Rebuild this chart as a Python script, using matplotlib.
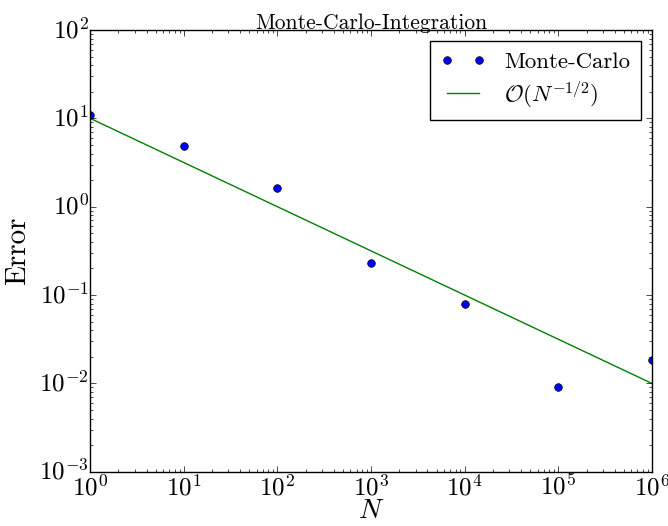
import numpy as np
import matplotlib
matplotlib.use("Agg")
import matplotlib.pyplot as plt

# data
N = [1e0, 1e1, 1e2, 1e3, 1e4, 1e5, 1e6]
err = [11.0, 4.9, 1.61, 0.23, 0.080, 0.0092, 0.0185]
N_ref = [1e0, 1e6]

plt.style.use('classic')
plt.rcParams['font.family'] = 'cmr10'
plt.rcParams['mathtext.fontset'] = 'cm'
plt.rcParams['axes.formatter.use_mathtext'] = True
plt.rcParams['axes.unicode_minus'] = False

fig = plt.figure(figsize=(6.68, 5.26), dpi=100, facecolor='white')
ax = fig.add_axes([0.135, 0.103, 0.841, 0.840])

ax.loglog(N, err, 'o', color='b', markersize=5.5, label='Monte-Carlo')
ref = [10.0 / np.sqrt(n) for n in N_ref]
ax.loglog(N_ref, ref, 'g-', label=r'$\mathcal{O}(N^{-1/2})$')

ax.set_xlim(1e0, 1e6)
ax.set_ylim(1e-3, 1e2)
ax.tick_params(labelsize=18)
ax.tick_params(axis='y', which='major', pad=1)
ax.tick_params(axis='x', which='major', pad=2)
ax.set_xlabel(r'$N$', fontsize=20, labelpad=-2)
ax.set_ylabel('Error', fontsize=21, labelpad=6)
ax.set_title('Monte-Carlo-Integration', fontsize=15.5, pad=1)
ax.legend(loc='upper right', fontsize=16.5, labelspacing=0.3, borderpad=0.45)

fig.savefig('out.png', dpi=100, facecolor='white')
